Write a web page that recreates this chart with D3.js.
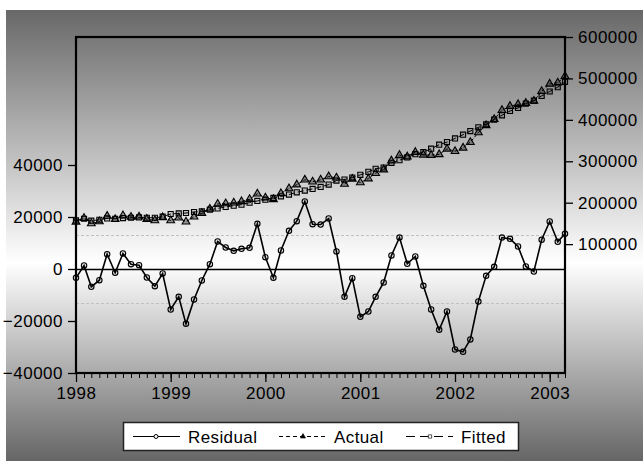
<!DOCTYPE html>
<html>
<head>
<meta charset="utf-8">
<script src="https://cdn.jsdelivr.net/npm/d3@7"></script>
<style>
  html, body { margin: 0; padding: 0; background: #fff; }
  svg { display: block; font-family: "Liberation Sans", Arial, sans-serif; }
  .tick text { font-size: 17px; fill: #000; letter-spacing: 0.5px; }
  .legend text { font-size: 17px; fill: #000; letter-spacing: 0.4px; }
</style>
</head>
<body>
<svg id="chart" width="643" height="461"></svg>
<script>
// monthly observations 1998M01 - 2003M03
const START = new Date(1998, 0, 1)
const END = new Date(2003, 2, 1)
const years = ['1998', '1999', '2000', '2001', '2002', '2003']
const leftTicks = [-40000, -20000, 0, 20000, 40000]
const rightTicks = [100000, 200000, 300000, 400000, 500000, 600000]
const residStd = 13000
const seriesNames = ['Residual', 'Actual', 'Fitted']

const residual = [
  -3400, 1350, -6850, -4300, 5700, -1460, 5960, 1850, 1460, -3270, -6600, -1730,
  -15580, -10700, -21100, -11700, -4420, 1850, 10580, 8270, 7000, 7770, 8150, 17380,
  4540, -3380, 7120, 14690, 18400, 25960, 17230, 17100, 19420, 6730, -10700, -3540,
  -18400, -16350, -10700, -5190, 5190, 12100, 2000, 4800, -6460, -15580, -23400, -16350,
  -30960, -31850, -27100, -12500, -2620, 850, 12100, 11600, 8650, 960, -960, 11230,
  18270, 10460, 13540
]
const actual = [
  153800, 162650, 149650, 154600, 167700, 159840, 168960, 165550, 165960, 160430, 157100, 164470,
  157120, 163500, 154000, 165900, 174600, 184950, 196900, 198000, 199800, 203100, 208250, 221600,
  211900, 208100, 222500, 234200, 243500, 255200, 250500, 255300, 263100, 260100, 245200, 257200,
  248800, 258150, 271100, 279800, 301500, 314700, 311200, 322000, 315500, 314700, 316600, 330000,
  324200, 332400, 345900, 369400, 386600, 401500, 423100, 433000, 437400, 440300, 445600, 469000,
  486700, 489400, 505200
]
const fitted = [
  157200, 161300, 156500, 158900, 162000, 161300, 163000, 163700, 164500, 163700, 163700, 166200,
  172700, 174200, 175100, 177600, 179000, 183100, 186300, 189700, 192800, 195300, 200100, 204200,
  207400, 211500, 215400, 219500, 225100, 229200, 233300, 238200, 243700, 253400, 255900, 260700,
  267200, 274500, 281800, 285000, 296300, 302600, 309200, 317200, 322000, 330300, 340000, 346300,
  355200, 364200, 373000, 381900, 389200, 400600, 411000, 421400, 428700, 439300, 446600, 457800,
  468400, 478900, 491700
]

const W = 643, H = 461
const PLOT = { left: 76, right: 565, top: 37, bottom: 373 }

const months = d3.timeMonth.range(START, d3.timeMonth.offset(END, 1))

const svg = d3.select('#chart')

// background panel with vertical gradient
const defs = svg.append('defs')
const grad = defs.append('linearGradient')
  .attr('id', 'bg')
  .attr('x1', 0).attr('y1', 0).attr('x2', 0).attr('y2', 1)
grad.append('stop').attr('offset', '0%').attr('stop-color', '#686868')
grad.append('stop').attr('offset', '56%').attr('stop-color', '#ffffff')
grad.append('stop').attr('offset', '100%').attr('stop-color', '#666666')

svg.append('rect')
  .attr('x', 6).attr('y', 10)
  .attr('width', W - 6).attr('height', H - 10)
  .attr('fill', 'url(#bg)')

const x = d3.scaleTime()
  .domain([START, END])
  .range([PLOT.left, PLOT.right])
const yL = d3.scaleLinear()
  .domain([-40000, 89231])
  .range([PLOT.bottom, PLOT.top])
const yR = d3.scaleLinear()
  .domain([-211100, 600000])
  .range([PLOT.bottom, PLOT.top])

// std lines and zero line
svg.append('g').selectAll('line')
  .data([residStd, -residStd])
  .join('line')
  .attr('x1', PLOT.left).attr('x2', PLOT.right)
  .attr('y1', d => Math.round(yL(d)) + 0.5).attr('y2', d => Math.round(yL(d)) + 0.5)
  .attr('stroke', '#c0c0c0')
  .attr('stroke-width', 1)
  .attr('stroke-dasharray', '3,2')
svg.append('line')
  .attr('x1', PLOT.left).attr('x2', PLOT.right)
  .attr('y1', Math.round(yL(0)) + 0.5).attr('y2', Math.round(yL(0)) + 0.5)
  .attr('stroke', '#000')
  .attr('stroke-width', 1.3)

// axes
const xMinor = svg.append('g')
  .attr('class', 'x-minor')
  .attr('transform', `translate(0, ${PLOT.bottom})`)
  .call(d3.axisBottom(x).tickValues(months).tickSize(5).tickFormat(''))
xMinor.select('.domain').remove()
xMinor.selectAll('line').attr('stroke', '#000')

const xAxis = svg.append('g')
  .attr('class', 'x-axis')
  .attr('transform', `translate(0, ${PLOT.bottom})`)
  .call(d3.axisBottom(x)
    .tickValues(years.map(y => new Date(+y, 0, 1)))
    .tickSize(9)
    .tickPadding(3)
    .tickFormat((d, i) => years[i]))
xAxis.select('.domain').remove()
xAxis.selectAll('line').attr('stroke', '#000').attr('stroke-width', 1.3)
xAxis.selectAll('.tick text').attr('dy', '0.85em')

const lAxis = svg.append('g')
  .attr('class', 'y-left')
  .attr('transform', `translate(${PLOT.left}, 0)`)
  .call(d3.axisLeft(yL).tickValues(leftTicks).tickSize(8).tickPadding(5).tickFormat(d3.format('d')))
lAxis.select('.domain').remove()
lAxis.selectAll('line').attr('stroke', '#000').attr('stroke-width', 1.3)

const rAxis = svg.append('g')
  .attr('class', 'y-right')
  .attr('transform', `translate(${PLOT.right}, 0)`)
  .call(d3.axisRight(yR).tickValues(rightTicks).tickSize(8).tickPadding(5).tickFormat(d3.format('d')))
rAxis.select('.domain').remove()
rAxis.selectAll('line').attr('stroke', '#000').attr('stroke-width', 1.3)

// frame
svg.append('rect')
  .attr('x', PLOT.left).attr('y', PLOT.top)
  .attr('width', PLOT.right - PLOT.left)
  .attr('height', PLOT.bottom - PLOT.top)
  .attr('fill', 'none')
  .attr('stroke', '#000')
  .attr('stroke-width', 2.2)

const triangle = d3.symbol().type(d3.symbolTriangle).size(26)
const square = d3.symbol().type(d3.symbolSquare).size(26)

let drawSeries = function (values, scale, dash, width, marker) {
  const pts = values.map((v, i) => [x(months[i]), scale(v)])
  const g = svg.append('g')
  g.append('path')
    .attr('d', d3.line()(pts))
    .attr('fill', 'none')
    .attr('stroke', '#000')
    .attr('stroke-width', width)
    .attr('stroke-dasharray', dash)
  if (marker === 'circle') {
    g.selectAll('circle').data(pts).join('circle')
      .attr('cx', d => d[0]).attr('cy', d => d[1])
      .attr('r', 2.7)
      .attr('fill', 'rgba(0,0,0,0.08)')
      .attr('stroke', '#000')
      .attr('stroke-width', 1.1)
  } else {
    g.selectAll('path.m').data(pts).join('path')
      .classed('m', true)
      .attr('d', marker === 'tri' ? triangle : square)
      .attr('transform', d => `translate(${d[0]}, ${d[1]})`)
      .attr('fill', marker === 'tri' ? 'rgba(0,0,0,0.35)' : 'rgba(0,0,0,0.12)')
      .attr('stroke', '#000')
      .attr('stroke-width', 1.1)
  }
}

drawSeries(fitted, yR, '6,3', 1, 'square')
drawSeries(actual, yR, '3,2', 1, 'tri')
drawSeries(residual, yL, null, 1.6, 'circle')

// legend
const legend = svg.append('g').attr('class', 'legend')
legend.append('rect')
  .attr('x', 123.5).attr('y', 422.5)
  .attr('width', 395).attr('height', 28)
  .attr('fill', '#fff')
  .attr('stroke', '#222')
  .attr('stroke-width', 1.5)

const legendItems = [
  { name: seriesNames[0], x1: 133, x2: 180, mx: 156, text: 188, dash: null, marker: 'circle' },
  { name: seriesNames[1], x1: 279, x2: 328, mx: 303, text: 334, dash: '4,3', marker: 'tri' },
  { name: seriesNames[2], x1: 406, x2: 453, mx: 430, text: 461, dash: '9,5', marker: 'square' }
]
const LY = 436.5
legendItems.forEach(it => {
  legend.append('line')
    .attr('x1', it.x1).attr('x2', it.x2)
    .attr('y1', LY).attr('y2', LY)
    .attr('stroke', '#000')
    .attr('stroke-width', 1)
    .attr('stroke-dasharray', it.dash)
  if (it.marker === 'circle') {
    legend.append('circle')
      .attr('cx', it.mx).attr('cy', LY).attr('r', 2)
      .attr('fill', '#fff').attr('stroke', '#000')
  } else {
    legend.append('path')
      .attr('d', it.marker === 'tri' ? triangle : square)
      .attr('transform', `translate(${it.mx}, ${LY}) scale(0.65)`)
      .attr('fill', it.marker === 'tri' ? '#000' : '#fff')
      .attr('stroke', '#000')
  }
  legend.append('text')
    .attr('x', it.text).attr('y', LY + 6)
    .text(it.name)
})
</script>
</body>
</html>
